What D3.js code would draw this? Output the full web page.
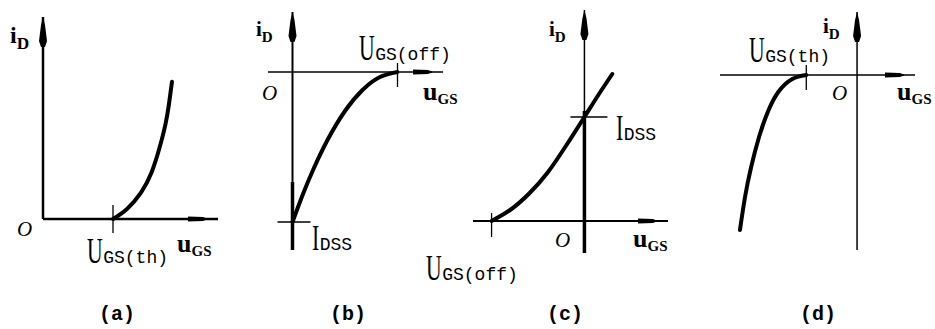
<!DOCTYPE html>
<html>
<head>
<meta charset="utf-8">
<script src="https://cdn.jsdelivr.net/npm/d3@7"></script>
<style>
  body { margin: 0; background: #fff; }
  .serif { font-family: "Liberation Serif", "DejaVu Serif", serif; }
  .mono { font-family: "Liberation Mono", "DejaVu Sans Mono", monospace; }
</style>
</head>
<body>
<svg id="chart" width="935" height="329"></svg>
<script>
// transfer curves (u = uGS, i = iD, arbitrary units)
const uA = [4.0, 4.8, 5.6, 6.2, 6.65, 7.0, 7.2, 7.37];
const iA = [0, 0.5, 1.3, 2.3, 3.5, 4.7, 5.7, 6.8];

const uB = [0, 0.6, 1.2, 2.0, 3.0, 4.0, 5.0, 6.0];
const iB = [-7.5, -6.1, -4.85, -3.4, -1.95, -0.9, -0.25, 0];

const uC = [-5, -4, -3, -2, -1, 0, 0.75, 1.5];
const iC = [0, 0.55, 1.35, 2.4, 3.75, 5.2, 6.3, 7.35];

const uD = [-2.9, -3.7, -4.5, -5.1, -5.6, -6.05, -6.4, -6.69];
const iD = [0, -0.2, -0.85, -1.85, -3.1, -4.6, -6.1, -7.75];

// marks on the axes
const panelNames = ["(a)", "(b)", "(c)", "(d)"];
const uMarks = [4, 6, -5, -2.9];
const uMarkSubs = ["GS(th)", "GS(off)", "GS(off)", "GS(th)"];
const iMarks = [null, -7.5, 5.2, null];
const iMarkSubs = [null, "DSS", "DSS", null];

const svg = d3.select("#chart");

const panels = [
  { u: uA, i: iA, xDom: [0, 10], xRange: [43, 218], yDom: [0, 10], yRange: [219, 17],
    axW: 2.5, ayW: 2.5, thickFrom: null,
    tick: [-14, 14], iTick: null,
    iLab: [10, 43, 24], oLab: [17, 236], uLab: [177, 252], mLab: [87, 263], imLab: null, name: 117 },
  { u: uB, i: iB, xDom: [-1.4, 8.6], xRange: [268, 443], yDom: [-8.9, 3], yRange: [250, 12],
    axW: 1.5, ayW: 2, thickFrom: -5.5,
    tick: [-9, 15], iTick: [-15, 18],
    iLab: [256, 36, 21], oLab: [262, 100], uLab: [423, 100], mLab: [359, 60], imLab: [312, 250], name: 348 },
  { u: uC, i: iC, xDom: [-6, 4.5], xRange: [473, 668], yDom: [-1.6, 10.55], yRange: [253, 10],
    axW: 2, ayW: 1.5, thickFrom: 5.5,
    tick: [-8, 16], iTick: [-14, 23],
    iLab: [549, 36, 21], oLab: [555, 247], uLab: [633, 247], mLab: [426, 280], imLab: [616, 140], name: 565 },
  { u: uD, i: iD, xDom: [-7.83, 3.31], xRange: [720, 915], yDom: [-8.75, 3.15], yRange: [250, 12],
    axW: 1.5, ayW: 1.5, thickFrom: null,
    tick: [-10, 15], iTick: null,
    iLab: [823, 33, 21], oLab: [832, 100], uLab: [897, 100], mLab: [749, 62], imLab: null, name: 818 }
];

// big narrow capital (U or I) followed by a mono subscript
function capLabel(g, x, y, cap, sub) {
  const t = g.append("text")
    .attr("class", "serif")
    .attr("transform", `translate(${x},${y}) scale(0.62,1)`)
    .style("font-size", "35px")
    .text(cap);
  const w = t.node().getComputedTextLength() * 0.62;
  g.append("text")
    .attr("class", "mono")
    .attr("x", x + w + 0.5)
    .attr("y", y)
    .style("font-size", "18px")
    .text(sub);
}

panels.forEach((p, k) => {
  const g = svg.append("g");
  const x = d3.scaleLinear().domain(p.xDom).range(p.xRange);
  const y = d3.scaleLinear().domain(p.yDom).range(p.yRange);
  const x0 = x(0), y0 = y(0);
  const xEnd = p.xRange[1], yTop = p.yRange[1];

  // x axis with its blob arrow
  g.append("line")
    .attr("x1", p.xRange[0]).attr("x2", xEnd)
    .attr("y1", y0).attr("y2", y0)
    .attr("stroke", "#000").attr("stroke-width", p.axW);
  const bx = xEnd - 30;
  g.append("path")
    .attr("d", `M${bx},${y0 - 2.5} L${bx + 15},${y0 - 2} L${bx + 20},${y0} L${bx + 15},${y0 + 2} L${bx},${y0 + 2.5} Z`)
    .attr("fill", "#000");

  // y axis with its arrow
  g.append("line")
    .attr("x1", x0).attr("x2", x0)
    .attr("y1", yTop).attr("y2", p.yRange[0])
    .attr("stroke", "#000").attr("stroke-width", p.ayW);
  if (p.thickFrom !== null) {
    g.append("line")
      .attr("x1", x0).attr("x2", x0)
      .attr("y1", y(p.thickFrom)).attr("y2", p.yRange[0])
      .attr("stroke", "#000").attr("stroke-width", 3.5);
  }
  g.append("path")
    .attr("d", `M${x0},${yTop} L${x0 + 2},${yTop + 8} L${x0 + 4},${yTop + 24} L${x0 + 2},${yTop + 30} L${x0 - 2},${yTop + 30} L${x0 - 4},${yTop + 24} L${x0 - 2},${yTop + 8} Z`)
    .attr("fill", "#000");

  // mark on the u axis
  g.append("line")
    .attr("x1", x(uMarks[k])).attr("x2", x(uMarks[k]))
    .attr("y1", y0 + p.tick[0]).attr("y2", y0 + p.tick[1])
    .attr("stroke", "#000").attr("stroke-width", 1.3);

  // mark on the i axis
  if (iMarks[k] !== null) {
    g.append("line")
      .attr("x1", x0 + p.iTick[0]).attr("x2", x0 + p.iTick[1])
      .attr("y1", y(iMarks[k])).attr("y2", y(iMarks[k]))
      .attr("stroke", "#000").attr("stroke-width", 1.3);
  }

  // curve
  const pts = p.u.map((v, j) => [v, p.i[j]]);
  g.append("path")
    .datum(pts)
    .attr("d", d3.line().x(d => x(d[0])).y(d => y(d[1])).curve(d3.curveNatural))
    .attr("fill", "none")
    .attr("stroke", "#000")
    .attr("stroke-width", 4)
    .attr("stroke-linecap", "round");

  // i_D label
  const il = g.append("text").attr("class", "serif")
    .attr("x", p.iLab[0]).attr("y", p.iLab[1])
    .style("font-weight", "bold").style("font-size", p.iLab[2] + "px");
  il.append("tspan").text("i");
  il.append("tspan").attr("dy", 6).style("font-size", (p.iLab[2] * 0.72) + "px").text("D");

  // u_GS label
  const ul = g.append("text").attr("class", "serif")
    .attr("x", p.uLab[0]).attr("y", p.uLab[1])
    .style("font-weight", "bold").style("font-size", "26px");
  ul.append("tspan").text("u");
  ul.append("tspan").attr("dy", 4).style("font-size", "15px").text("GS");

  // origin
  g.append("text").attr("class", "serif")
    .attr("x", p.oLab[0]).attr("y", p.oLab[1])
    .style("font-style", "italic").style("font-size", "21px")
    .text("O");

  capLabel(g, p.mLab[0], p.mLab[1], "U", uMarkSubs[k]);
  if (p.imLab) capLabel(g, p.imLab[0], p.imLab[1], "I", iMarkSubs[k]);

  g.append("text").attr("class", "mono")
    .attr("x", p.name).attr("y", 320)
    .attr("text-anchor", "middle")
    .style("font-weight", "bold").style("font-size", "20px")
    .text(panelNames[k]);
});
</script>
</body>
</html>
